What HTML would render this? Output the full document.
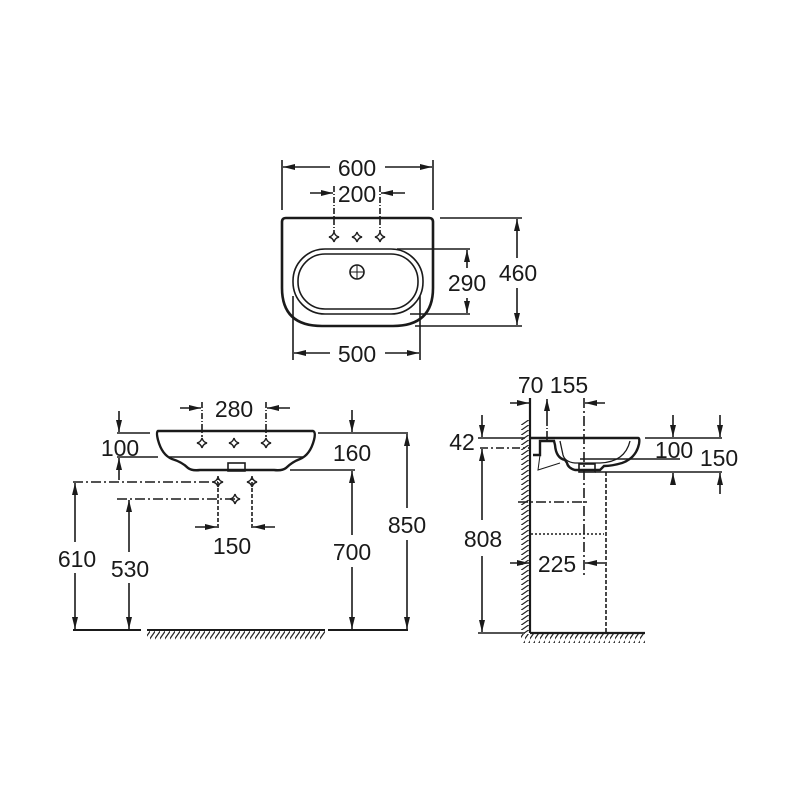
<!DOCTYPE html>
<html><head><meta charset="utf-8"><style>
html,body{margin:0;padding:0;background:#fff}
svg{display:block}
text{font-family:"Liberation Sans",Arial,sans-serif;font-size:23px;fill:#1a1a1a}
</style></head><body>
<svg width="800" height="800" viewBox="0 0 800 800" xmlns="http://www.w3.org/2000/svg">
<defs>
<marker id="a" viewBox="0 0 12 8" refX="12" refY="4" markerWidth="12" markerHeight="8" markerUnits="userSpaceOnUse" orient="auto"><path d="M0,1 L12,4 L0,7 Z" fill="#1a1a1a"/></marker>
<pattern id="h" width="5" height="10" patternUnits="userSpaceOnUse"><path d="M-1,10 L6,0" stroke="#222" stroke-width="1.2"/></pattern>
<pattern id="hv" width="10" height="5" patternUnits="userSpaceOnUse"><path d="M0,6 L10,-1" stroke="#222" stroke-width="1.2"/></pattern>
<g id="x"><path d="M0,-5 Q1,-1 5,0 Q1,1 0,5 Q-1,1 -5,0 Q-1,-1 0,-5Z" fill="none" stroke="#222" stroke-width="1.5"/></g>
</defs>
<g stroke="#1a1a1a" stroke-width="1.6" fill="none">
<!-- TOP VIEW -->
<line x1="282" y1="160" x2="282" y2="210"/><line x1="433" y1="160" x2="433" y2="210"/>
<line x1="330" y1="167" x2="283" y2="167" marker-end="url(#a)"/><line x1="385" y1="167" x2="432" y2="167" marker-end="url(#a)"/>
<line x1="310" y1="193" x2="333" y2="193" marker-end="url(#a)"/><line x1="405" y1="193" x2="381" y2="193" marker-end="url(#a)"/>
<line x1="334" y1="186" x2="334" y2="232" stroke-dasharray="6,2,1,2"/><line x1="380" y1="186" x2="380" y2="232" stroke-dasharray="6,2,1,2"/>
<path d="M282,222 Q282,218 286,218 L429,218 Q433,218 433,222 L433,288 Q433,326 393,326 L322,326 Q282,326 282,288 Z" stroke-width="2.6"/>
<rect x="293" y="249" width="130" height="65" rx="32" ry="32"/>
<rect x="298" y="254" width="120" height="55" rx="27" ry="27"/>
<circle cx="357" cy="272" r="7"/>
<path d="M357,265 V279 M350,272 H364" stroke-width="1"/>
<line x1="397" y1="249" x2="470" y2="249"/><line x1="410" y1="314" x2="470" y2="314"/>
<line x1="467" y1="268" x2="467" y2="250" marker-end="url(#a)"/><line x1="467" y1="298" x2="467" y2="313" marker-end="url(#a)"/>
<line x1="440" y1="218" x2="522" y2="218"/><line x1="415" y1="326" x2="522" y2="326"/>
<line x1="517" y1="258" x2="517" y2="219" marker-end="url(#a)"/><line x1="517" y1="288" x2="517" y2="325" marker-end="url(#a)"/>
<line x1="293" y1="296" x2="293" y2="360"/><line x1="420" y1="296" x2="420" y2="360"/>
<line x1="330" y1="353" x2="294" y2="353" marker-end="url(#a)"/><line x1="385" y1="353" x2="419" y2="353" marker-end="url(#a)"/>

<!-- FRONT VIEW -->
<path d="M158,431 L313,431 Q316,432 314,440 Q310,455 300,459 Q292,462 286,468 Q282,471 274,470 L245,470 L228,470 L200,470 Q192,471 188,468 Q182,462 172,459 Q162,455 158,440 Q156,432 158,431 Z" stroke-width="2.4"/>
<line x1="168" y1="457" x2="304" y2="457"/>
<rect x="228" y="463" width="17" height="8"/>
<line x1="180" y1="408" x2="201" y2="408" marker-end="url(#a)"/><line x1="290" y1="408" x2="267" y2="408" marker-end="url(#a)"/>
<line x1="202" y1="402" x2="202" y2="437" stroke-dasharray="6,2,1,2"/><line x1="266" y1="402" x2="266" y2="437" stroke-dasharray="6,2,1,2"/>
<line x1="117" y1="433" x2="150" y2="433"/><line x1="117" y1="457" x2="158" y2="457"/>
<line x1="119" y1="411" x2="119" y2="432" marker-end="url(#a)"/><line x1="119" y1="480" x2="119" y2="458" marker-end="url(#a)"/>
<line x1="318" y1="433" x2="408" y2="433"/>
<line x1="352" y1="410" x2="352" y2="432" marker-end="url(#a)"/>
<line x1="290" y1="470" x2="355" y2="470"/>
<line x1="352" y1="535" x2="352" y2="471" marker-end="url(#a)"/><line x1="352" y1="567" x2="352" y2="629" marker-end="url(#a)"/>
<line x1="407" y1="508" x2="407" y2="434" marker-end="url(#a)"/><line x1="407" y1="540" x2="407" y2="629" marker-end="url(#a)"/>
<line x1="73" y1="630" x2="141" y2="630" stroke-width="2"/><line x1="147" y1="630" x2="325" y2="630" stroke-width="2"/><line x1="328" y1="630" x2="408" y2="630" stroke-width="2"/>
<line x1="73" y1="482" x2="218" y2="482" stroke-dasharray="10,3,2,3"/>
<line x1="117" y1="499" x2="235" y2="499" stroke-dasharray="10,3,2,3"/>
<line x1="75" y1="542" x2="75" y2="483" marker-end="url(#a)"/><line x1="75" y1="573" x2="75" y2="629" marker-end="url(#a)"/>
<line x1="129" y1="552" x2="129" y2="500" marker-end="url(#a)"/><line x1="129" y1="583" x2="129" y2="629" marker-end="url(#a)"/>
<line x1="218" y1="476" x2="218" y2="530" stroke-dasharray="4,2"/><line x1="252" y1="476" x2="252" y2="530" stroke-dasharray="4,2"/>
<line x1="195" y1="527" x2="217" y2="527" marker-end="url(#a)"/><line x1="275" y1="527" x2="253" y2="527" marker-end="url(#a)"/>

<!-- SIDE VIEW -->
<line x1="530" y1="398" x2="530" y2="633" stroke-width="2.2"/>
<line x1="530" y1="633" x2="645" y2="633" stroke-width="2.2"/>
<line x1="510" y1="403" x2="529" y2="403" marker-end="url(#a)"/>
<line x1="547" y1="420" x2="547" y2="399" marker-end="url(#a)"/>
<line x1="547" y1="420" x2="547" y2="440" stroke-dasharray="6,2,1,2"/>
<line x1="584" y1="398" x2="584" y2="575" stroke-dasharray="10,3,2,3"/>
<line x1="605" y1="403" x2="585" y2="403" marker-end="url(#a)"/>
<line x1="478" y1="438" x2="525" y2="438"/>
<line x1="482" y1="415" x2="482" y2="437" marker-end="url(#a)"/>
<line x1="480" y1="448" x2="530" y2="448" stroke-dasharray="8,3,2,3"/>
<line x1="482" y1="520" x2="482" y2="449" marker-end="url(#a)"/><line x1="482" y1="556" x2="482" y2="632" marker-end="url(#a)"/>
<line x1="478" y1="633" x2="525" y2="633"/>
<path d="M531,438 L638,438 Q640,438 639,444 Q636,458 622,463 Q612,466 604,466 L600,470 L575,470 Q568,468 567,463 L565,460 Q556,458 555,445 L554,441 L540,441 L540,455 L533,455" stroke-width="2.4"/>
<path d="M560,441 L563,455 Q565,462 575,463 L600,463 Q625,462 630,441" stroke-width="1.3"/>
<rect x="579" y="464" width="16" height="8"/>
<path d="M540,455 L538,470 L560,463" stroke-width="1"/>
<line x1="645" y1="438" x2="722" y2="438"/><line x1="580" y1="459" x2="680" y2="459"/><line x1="595" y1="472" x2="722" y2="472"/>
<line x1="673" y1="415" x2="673" y2="437" marker-end="url(#a)"/><line x1="673" y1="483" x2="673" y2="473" marker-end="url(#a)"/>
<line x1="720" y1="415" x2="720" y2="437" marker-end="url(#a)"/><line x1="720" y1="494" x2="720" y2="473" marker-end="url(#a)"/>
<line x1="606" y1="472" x2="606" y2="633" stroke-dasharray="4,2"/>
<line x1="518" y1="502" x2="590" y2="502" stroke-dasharray="10,3,2,3"/>
<line x1="531" y1="534" x2="604" y2="534" stroke-dasharray="2,2"/>
<line x1="510" y1="563" x2="529" y2="563" marker-end="url(#a)"/><line x1="605" y1="563" x2="585" y2="563" marker-end="url(#a)"/>
</g>
<rect x="147" y="631" width="178" height="9" fill="url(#h)"/>
<rect x="521" y="634" width="124" height="9" fill="url(#h)"/>
<rect x="521" y="420" width="9" height="213" fill="url(#hv)"/>
<use href="#x" x="334" y="237"/><use href="#x" x="357" y="237"/><use href="#x" x="380" y="237"/>
<use href="#x" x="202" y="443"/><use href="#x" x="234" y="443"/><use href="#x" x="266" y="443"/>
<use href="#x" x="218" y="482"/><use href="#x" x="252" y="482"/><use href="#x" x="235" y="499"/>
<g text-anchor="middle">
<text x="357" y="176">600</text>
<text x="357" y="202">200</text>
<text x="467" y="291">290</text>
<text x="518" y="281">460</text>
<text x="357" y="362">500</text>
<text x="234" y="417">280</text>
<text x="120" y="456">100</text>
<text x="352" y="461">160</text>
<text x="352" y="560">700</text>
<text x="407" y="533">850</text>
<text x="77" y="567">610</text>
<text x="130" y="577">530</text>
<text x="232" y="554">150</text>
<text x="553" y="393">70 155</text>
<text x="462" y="450">42</text>
<text x="483" y="547">808</text>
<text x="557" y="572">225</text>
<text x="674" y="458">100</text>
<text x="719" y="466">150</text>
</g>
</svg>
</body></html>
